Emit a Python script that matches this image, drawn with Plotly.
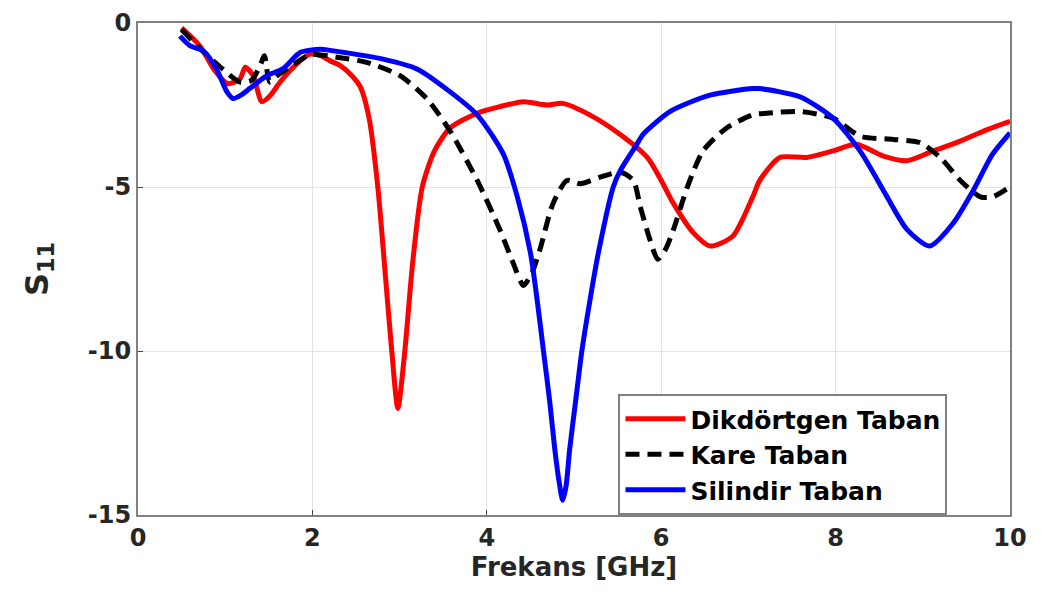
import plotly.graph_objects as go

# Frequency (GHz) and S11 (dB) samples
freq_dik = [0.5, 0.71, 0.88, 1.03, 1.17, 1.23, 1.32, 1.42, 1.52, 1.63, 1.8, 1.97, 2.1, 2.2, 2.32, 2.45, 2.55, 2.65, 2.75, 2.84, 2.91, 2.98, 3.06, 3.15, 3.26, 3.4, 3.58, 3.89, 4.15, 4.42, 4.69, 4.87, 5.18, 5.53, 5.84, 6.0, 6.14, 6.37, 6.56, 6.82, 7.05, 7.13, 7.36, 7.67, 7.97, 8.24, 8.54, 8.82, 9.12, 9.43, 9.74, 10.0]
s11_dik = [-0.15, -0.7, -1.45, -1.85, -1.7, -1.35, -1.6, -2.4, -2.2, -1.8, -1.3, -0.95, -1.0, -1.15, -1.3, -1.6, -1.95, -2.9, -5.0, -7.8, -10.0, -11.75, -10.0, -7.3, -5.0, -3.9, -3.2, -2.75, -2.55, -2.4, -2.5, -2.45, -2.8, -3.4, -4.1, -4.8, -5.5, -6.4, -6.8, -6.5, -5.3, -4.8, -4.1, -4.1, -3.9, -3.7, -4.05, -4.2, -3.9, -3.6, -3.25, -3.0]

freq_kare = [0.5, 0.7, 0.97, 1.17, 1.3, 1.4, 1.45, 1.51, 1.6, 1.71, 1.94, 2.0, 2.3, 2.62, 3.0, 3.31, 3.58, 3.89, 4.15, 4.3, 4.42, 4.52, 4.61, 4.76, 4.92, 5.07, 5.3, 5.53, 5.68, 5.76, 5.87, 5.96, 6.05, 6.14, 6.3, 6.48, 6.75, 7.05, 7.21, 7.59, 7.97, 8.28, 8.66, 8.97, 9.2, 9.43, 9.66, 9.8, 10.0]
s11_kare = [-0.2, -0.75, -1.4, -1.8, -1.75, -1.3, -1.0, -1.8, -1.6, -1.4, -1.0, -0.95, -1.05, -1.2, -1.6, -2.3, -3.3, -4.8, -6.3, -7.3, -8.0, -7.6, -6.9, -5.5, -4.8, -4.9, -4.7, -4.55, -4.8, -5.6, -6.6, -7.2, -6.9, -6.3, -5.0, -3.9, -3.2, -2.8, -2.75, -2.7, -2.9, -3.45, -3.55, -3.65, -4.1, -4.8, -5.3, -5.3, -5.0]

freq_sil = [0.48, 0.6, 0.75, 0.9, 1.02, 1.09, 1.18, 1.28, 1.48, 1.66, 1.86, 2.09, 2.24, 2.81, 3.2, 3.58, 3.89, 4.19, 4.35, 4.5, 4.58, 4.65, 4.72, 4.78, 4.83, 4.87, 4.91, 4.95, 5.02, 5.09, 5.18, 5.28, 5.45, 5.53, 5.72, 5.79, 6.1, 6.56, 7.05, 7.13, 7.59, 7.97, 8.28, 8.59, 8.82, 9.08, 9.35, 9.58, 9.8, 10.0]
s11_sil = [-0.4, -0.7, -0.85, -1.4, -2.1, -2.3, -2.2, -2.0, -1.6, -1.4, -0.9, -0.8, -0.85, -1.1, -1.4, -2.1, -2.8, -4.0, -5.3, -7.0, -8.5, -10.0, -11.5, -13.0, -14.0, -14.55, -14.1, -13.0, -11.5, -10.0, -8.5, -7.0, -5.0, -4.5, -3.7, -3.4, -2.7, -2.2, -2.0, -2.0, -2.25, -2.9, -3.9, -5.3, -6.3, -6.8, -6.1, -5.1, -4.0, -3.35]

series_names = ["Dikdörtgen Taban", "Kare Taban", "Silindir Taban"]
x_ticks = [0, 2, 4, 6, 8, 10]
y_ticks = [0, -5, -10, -15]

FONT = "DejaVu Sans"
TXT = "#262626"

fig = go.Figure()
fig.add_trace(go.Scatter(x=freq_dik, y=s11_dik, name=series_names[0], mode="lines",
                         line=dict(color="#ff0000", width=5, shape="spline", smoothing=0.7)))
fig.add_trace(go.Scatter(x=freq_kare, y=s11_kare, name=series_names[1], mode="lines",
                         line=dict(color="#000000", width=5, dash="14px,8px", shape="spline", smoothing=0.7)))
fig.add_trace(go.Scatter(x=freq_sil, y=s11_sil, name=series_names[2], mode="lines",
                         line=dict(color="#0000ff", width=5, shape="spline", smoothing=0.7)))

axis_common = dict(showline=True, linecolor="#808080", linewidth=2, mirror=True,
                   showgrid=True, gridcolor="#e3e3e3", gridwidth=1,
                   ticks="inside", ticklen=5, tickcolor="#404040",
                   tickfont=dict(family=FONT, size=24, color=TXT, weight="bold"),
                   ticklabeloverflow="allow",
                   zeroline=False, automargin=False)

fig.update_layout(
    width=1043, height=602,
    margin=dict(l=130, r=41, t=15, b=95, autoexpand=False),
    paper_bgcolor="white", plot_bgcolor="white",
    font=dict(family=FONT, color=TXT),
    xaxis=dict(range=[0, 10], tickvals=x_ticks, ticktext=[str(v) for v in x_ticks],
               title=dict(text="Frekans [GHz]", font=dict(family=FONT, size=26, color=TXT, weight="bold"), standoff=6),
               **axis_common),
    yaxis=dict(range=[-15, 0], tickvals=y_ticks, ticktext=[str(v) for v in y_ticks],
               title=dict(text="S<sub>11</sub>", font=dict(family=FONT, size=32, color=TXT, weight="bold"), standoff=30),
               **axis_common),
    legend=dict(x=0.551, y=0.0, xanchor="left", yanchor="bottom",
                bgcolor="white", bordercolor="#808080", borderwidth=2,
                font=dict(family=FONT, size=25, color="#000000", weight="bold"),
                itemwidth=60, tracegroupgap=0),
    showlegend=True,
)

fig.write_html("out.html")
